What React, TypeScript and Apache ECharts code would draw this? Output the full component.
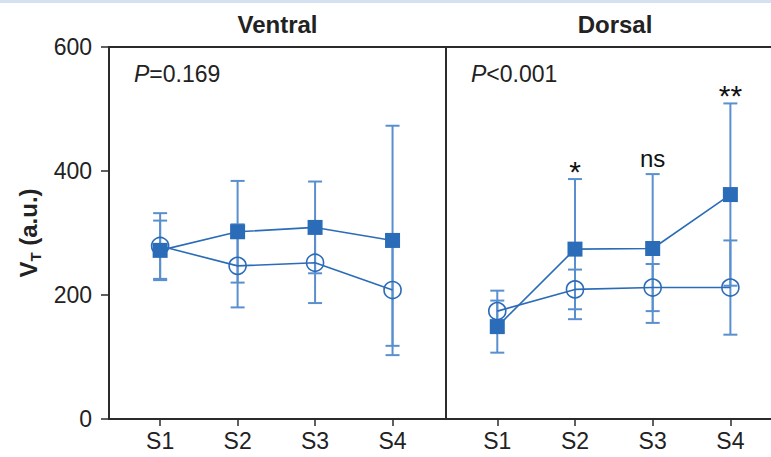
import React, { useEffect, useRef } from "react";
import * as echarts from "echarts";

const categories = ["S1", "S2", "S3", "S4"];
const xPos = [1, 2, 3, 4];
const yTicks = [0, 200, 400, 600];

const ventralSquareMean = [272, 302, 309, 288];
const ventralSquareSD = [48, 82, 74, 185];
const ventralCircleMean = [279, 247, 252, 208];
const ventralCircleSD = [53, 67, 65, 90];

const dorsalSquareMean = [149, 274, 275, 362];
const dorsalSquareSD = [42, 113, 120, 147];
const dorsalCircleMean = [174, 209, 212, 212];
const dorsalCircleSD = [33, 32, 38, 76];
const dorsalMarks = ["", "*", "ns", "**"];

const panelTitles = ["Ventral", "Dorsal"];
const pValues = ["=0.169", "<0.001"];

const FONT = "'Liberation Sans', Arial, Helvetica, sans-serif";
const BLUE = "#2b6cb8";
const ERR = "#5a8fcf";

function pts(mean: number[]) {
  return mean.map((m, i) => [xPos[i], m]);
}
function errs(mean: number[], sd: number[]) {
  return mean.map((m, i) => [xPos[i], m - sd[i], m + sd[i]]);
}

function errSeries(idx: number, mean: number[], sd: number[]) {
  return {
    type: "custom",
    xAxisIndex: idx,
    yAxisIndex: idx,
    z: 1,
    encode: { x: 0, y: [1, 2] },
    data: errs(mean, sd),
    renderItem: (params: any, api: any) => {
      const x = api.value(0);
      const lo = api.coord([x, api.value(1)]);
      const hi = api.coord([x, api.value(2)]);
      const hw = 7;
      const style = { stroke: ERR, lineWidth: 2 };
      return {
        type: "group",
        children: [
          { type: "line", shape: { x1: hi[0], y1: hi[1], x2: lo[0], y2: lo[1] }, style },
          { type: "line", shape: { x1: hi[0] - hw, y1: hi[1], x2: hi[0] + hw, y2: hi[1] }, style },
          { type: "line", shape: { x1: lo[0] - hw, y1: lo[1], x2: lo[0] + hw, y2: lo[1] }, style },
        ],
      };
    },
  };
}

function circleSeries(idx: number, mean: number[]) {
  return {
    type: "line",
    xAxisIndex: idx,
    yAxisIndex: idx,
    z: 3,
    data: pts(mean),
    symbol: "circle",
    symbolSize: 17,
    showAllSymbol: true,
    lineStyle: { color: BLUE, width: 1.6 },
    itemStyle: { color: "rgba(0,0,0,0)", borderColor: BLUE, borderWidth: 1.6 },
  };
}

function squareSeries(idx: number, mean: number[]) {
  return {
    type: "line",
    xAxisIndex: idx,
    yAxisIndex: idx,
    z: 4,
    data: pts(mean),
    symbol: "rect",
    symbolSize: 15,
    lineStyle: { color: BLUE, width: 1.6 },
    itemStyle: { color: BLUE },
  };
}

export default function App() {
  const ref = useRef<HTMLDivElement>(null);
  useEffect(() => {
    if (!ref.current) return;
    const chart = echarts.init(ref.current, null, { renderer: "svg" });
    const grids = [
      { left: 109, top: 47, width: 337, height: 372 },
      { left: 446, top: 47, width: 338, height: 372 },
    ];
    const xAxis = grids.map((_, i) => ({
      type: "value",
      gridIndex: i,
      min: 0.34,
      max: 4.69,
      splitLine: { show: false },
      axisLine: { show: true, lineStyle: { color: "#2b2b2b", width: 2 } },
      axisTick: {
        show: true,
        customValues: xPos,
        length: 7,
        lineStyle: { color: "#2b2b2b", width: 1.5 },
      },
      axisLabel: {
        customValues: xPos,
        formatter: (v: number) => categories[Math.round(v) - 1] ?? "",
        fontFamily: FONT,
        fontSize: 23,
        color: "#222",
        margin: 10,
      },
    }));
    const yAxis = grids.map((_, i) => ({
      type: "value",
      gridIndex: i,
      min: 0,
      max: 600,
      interval: 200,
      splitLine: { show: false },
      axisLine: { show: true, lineStyle: { color: "#2b2b2b", width: 2 } },
      axisTick: { show: i === 0, length: 8, lineStyle: { color: "#2b2b2b", width: 1.5 } },
      axisLabel: {
        show: i === 0,
        fontFamily: FONT,
        fontSize: 23,
        color: "#222",
        margin: 17,
        formatter: (v: number) => (yTicks.includes(v) ? String(v) : ""),
      },
      name: i === 0 ? "{b|V}{s|T}{b| (a.u.)}" : "",
      nameLocation: "middle",
      nameGap: 66,
      nameTextStyle: {
        rich: {
          b: { fontFamily: FONT, fontWeight: "bold", fontSize: 24, color: "#222", lineHeight: 30, verticalAlign: "middle" },
          s: { fontFamily: FONT, fontWeight: "bold", fontSize: 15, color: "#222", lineHeight: 30, verticalAlign: "bottom" },
        },
      },
    }));

    const option: any = {
      animation: false,
      backgroundColor: "#ffffff",
      grid: grids.map((g) => ({
        ...g,
        containLabel: false,
        outerBoundsMode: "none",
        show: true,
        borderColor: "#2b2b2b",
        borderWidth: 2,
        backgroundColor: "transparent",
      })),
      xAxis,
      yAxis,
      series: [
        errSeries(0, ventralCircleMean, ventralCircleSD),
        errSeries(0, ventralSquareMean, ventralSquareSD),
        circleSeries(0, ventralCircleMean),
        squareSeries(0, ventralSquareMean),
        errSeries(1, dorsalCircleMean, dorsalCircleSD),
        errSeries(1, dorsalSquareMean, dorsalSquareSD),
        circleSeries(1, dorsalCircleMean),
        squareSeries(1, dorsalSquareMean),
        {
          type: "scatter",
          xAxisIndex: 1,
          yAxisIndex: 1,
          z: 5,
          symbolSize: 0,
          silent: true,
          data: dorsalSquareMean.map((m, i) => {
            const star = dorsalMarks[i].startsWith("*");
            return {
              value: [xPos[i], m + dorsalSquareSD[i]],
              label: star
                ? { formatter: dorsalMarks[i], fontSize: 30, offset: [0, 11] }
                : { formatter: dorsalMarks[i] },
            };
          }),
          label: {
            show: true,
            position: "top",
            distance: 4,
            fontFamily: FONT,
            fontSize: 24,
            color: "#111",
            opacity: 1,
          },
        },
      ],
      graphic: [
        { type: "rect", shape: { x: 0, y: 0, width: 771, height: 3 }, style: { fill: "#d5e0f2" } },
        ...panelTitles.map((t, i) => ({
          type: "text",
          x: i === 0 ? 277.5 : 615,
          y: 24,
          style: {
            text: t,
            font: `bold 24px ${FONT}`,
            fill: "#222",
            textAlign: "center",
            textVerticalAlign: "middle",
          },
        })),
        ...pValues.map((p, i) => ({
          type: "text",
          x: i === 0 ? 134 : 471,
          y: 74,
          style: {
            text: `{i|P}{n|${p}}`,
            textVerticalAlign: "middle",
            rich: {
              i: { fontFamily: FONT, fontSize: 23, fontStyle: "italic", fill: "#222" },
              n: { fontFamily: FONT, fontSize: 23, fill: "#222" },
            },
          },
        })),
      ],
    };
    chart.setOption(option);
    return () => chart.dispose();
  }, []);
  return (
    <div
      ref={ref}
      style={{ position: "fixed", left: 0, top: 0, width: 771, height: 457, background: "#fff" }}
    />
  );
}
